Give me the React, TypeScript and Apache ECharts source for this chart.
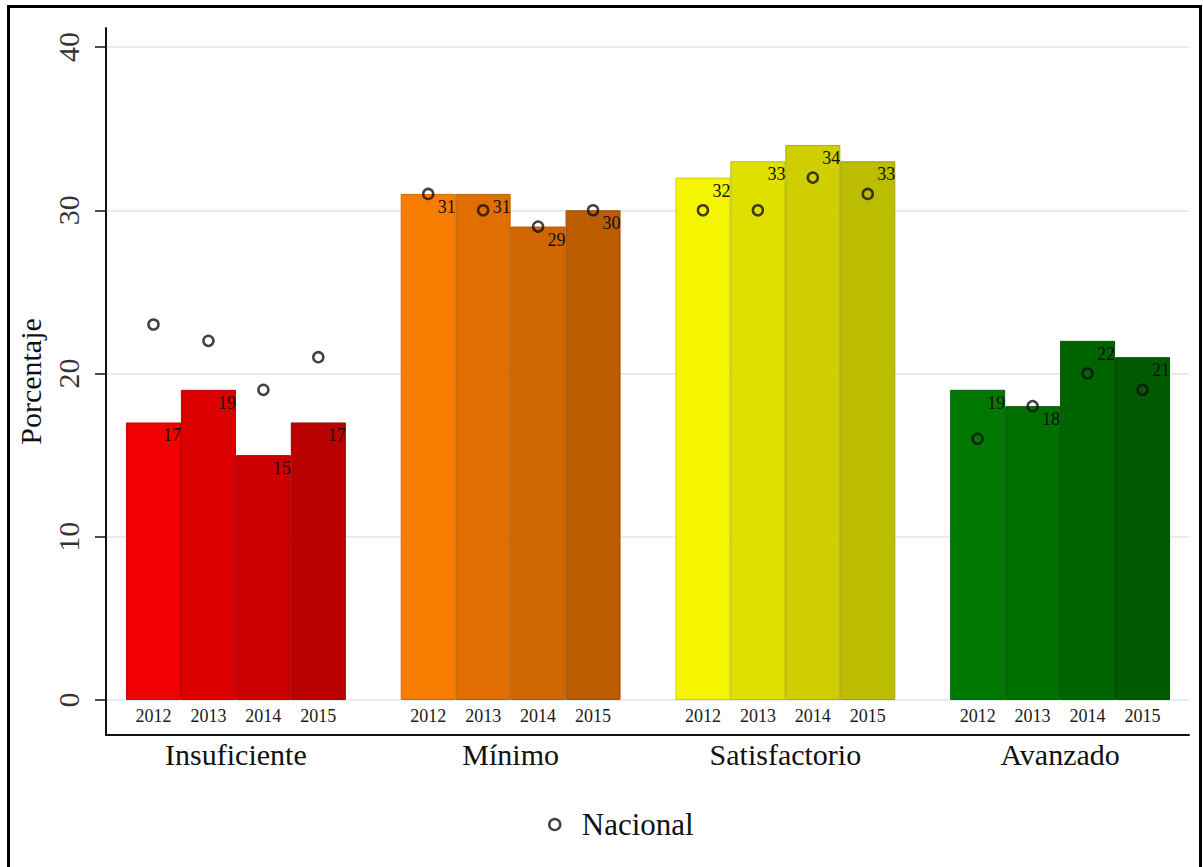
import React, { useEffect, useRef } from "react";
import * as echarts from "echarts";

const categories = ["Insuficiente", "Mínimo", "Satisfactorio", "Avanzado"];
const years = ["2012", "2013", "2014", "2015"];
const insuficiente = [17, 19, 15, 17];
const minimo = [31, 31, 29, 30];
const satisfactorio = [32, 33, 34, 33];
const avanzado = [19, 18, 22, 21];
const nacionalInsuficiente = [23, 22, 19, 21];
const nacionalMinimo = [31, 30, 29, 30];
const nacionalSatisfactorio = [30, 30, 32, 31];
const nacionalAvanzado = [16, 18, 20, 19];
const yTicks = [0, 10, 20, 30, 40];

const groupValues = [insuficiente, minimo, satisfactorio, avanzado];
const groupNacional = [nacionalInsuficiente, nacionalMinimo, nacionalSatisfactorio, nacionalAvanzado];
const groupColors = [
  ["#f00000", "#dc0000", "#cc0000", "#bb0000"],
  ["#f77c00", "#e06e00", "#d06600", "#bc5c00"],
  ["#f5f500", "#e0e000", "#d0cd00", "#bcbc00"],
  ["#007800", "#006e00", "#006400", "#005a00"],
];

const SERIF = "'Liberation Serif', 'Times New Roman', 'DejaVu Serif', serif";

function darken(hex: string, f: number) {
  const n = parseInt(hex.slice(1), 16);
  const r = Math.round(((n >> 16) & 255) * f);
  const g = Math.round(((n >> 8) & 255) * f);
  const b = Math.round((n & 255) * f);
  return `rgb(${r},${g},${b})`;
}

export default function App() {
  const ref = useRef<HTMLDivElement>(null);
  useEffect(() => {
    document.body.style.margin = "0";
    document.body.style.overflow = "hidden";
    if (!ref.current) return;
    const chart = echarts.init(ref.current, undefined, { renderer: "svg" });

    const slot = 5; // 4 bars + 1 gap per group
    const barData: any[] = [];
    const dotData: any[] = [];
    const yearPositions: number[] = [];
    const yearAt: Record<string, string> = {};
    const groupCenters: number[] = [];
    const groupAt: Record<string, string> = {};
    groupValues.forEach((vals, g) => {
      vals.forEach((v, i) => {
        const x = g * slot + i;
        const c = groupColors[g][i];
        barData.push({
          value: [x, v],
          itemStyle: { color: c, borderColor: darken(c, 0.85) },
        });
        dotData.push([x, groupNacional[g][i]]);
        yearPositions.push(x);
        yearAt[String(x)] = years[i];
      });
      const c = g * slot + 1.5;
      groupCenters.push(c);
      groupAt[String(c)] = categories[g];
    });

    const xMin = -0.864;
    const xMax = 18.846;

    chart.setOption({
      animation: false,
      backgroundColor: "transparent",
      grid: { left: 106, right: 14, top: 28, bottom: 132, containLabel: false },
      xAxis: [
        {
          type: "value",
          min: xMin,
          max: xMax,
          position: "bottom",
          offset: -35,
          axisLine: { show: false, onZero: false },
          axisTick: { show: false },
          splitLine: { show: false },
          axisLabel: {
            customValues: yearPositions,
            formatter: (v: number) => yearAt[String(v)] ?? "",
            fontFamily: SERIF,
            fontSize: 18,
            color: "#1a1a1a",
            margin: 7,
          },
        },
        {
          type: "value",
          min: xMin,
          max: xMax,
          position: "bottom",
          axisLine: { show: true, onZero: false, lineStyle: { color: "#111", width: 2 } },
          axisTick: { show: false },
          splitLine: { show: false },
          axisLabel: {
            customValues: groupCenters,
            formatter: (v: number) => groupAt[String(v)] ?? "",
            fontFamily: SERIF,
            fontSize: 30,
            color: "#111",
            margin: 4,
          },
        },
      ],
      yAxis: {
        type: "value",
        min: -2.144,
        max: 41.164,
        name: "Porcentaje",
        nameLocation: "middle",
        nameGap: 54,
        nameTextStyle: { fontFamily: SERIF, fontSize: 30, color: "#111" },
        axisLine: { show: true, onZero: false, lineStyle: { color: "#111", width: 2 } },
        axisTick: { show: true, length: 11, customValues: yTicks, lineStyle: { color: "#111", width: 1.5 } },
        splitLine: { show: false },
        axisLabel: {
          customValues: yTicks,
          rotate: 90,
          fontFamily: SERIF,
          fontSize: 30,
          color: "#333",
          margin: 23,
        },
      },
      legend: {
        left: 543,
        top: 804,
        itemWidth: 44,
        itemHeight: 11,
        data: [{ name: "Nacional", icon: "circle" }],
        itemStyle: { color: "rgba(0,0,0,0)", borderColor: "#111", borderWidth: 2.5 },
        textStyle: { fontFamily: SERIF, fontSize: 31, color: "#111" },
        selectedMode: false,
      },
      series: [
        {
          name: "grid",
          type: "line",
          data: [],
          z: 0,
          silent: true,
          markLine: {
            z: 0,
            silent: true,
            symbol: "none",
            label: { show: false },
            lineStyle: { color: "#e4eeee", width: 2, type: "solid" },
            data: yTicks.map((t) => ({ yAxis: t })),
          },
        },
        {
          name: "Porcentaje",
          type: "bar",
          xAxisIndex: 0,
          data: barData,
          barWidth: 55,
          z: 3,
          itemStyle: { borderWidth: 1 },
          label: {
            show: true,
            position: ["100%", 4],
            align: "right",
            verticalAlign: "top",
            fontFamily: SERIF,
            fontSize: 18,
            color: "#111",
            formatter: (p: any) => String(p.value[1]),
          },
        },
        {
          name: "Nacional",
          type: "scatter",
          xAxisIndex: 0,
          data: dotData,
          symbol: "circle",
          symbolSize: 10,
          z: 5,
          itemStyle: { color: "rgba(0,0,0,0)", borderColor: "#111", borderWidth: 2.5 },
        },
      ],
    });
    return () => chart.dispose();
  }, []);

  return (
    <div style={{ position: "fixed", left: 0, top: 0, width: 1203, height: 867, overflow: "hidden", background: "#fff" }}>
      <div
        style={{
          position: "absolute",
          left: 7,
          top: 5,
          width: 1195,
          height: 900,
          border: "3px solid #000",
          boxSizing: "border-box",
        }}
      />
      <div ref={ref} style={{ position: "absolute", left: 0, top: 0, width: 1203, height: 867 }} />
    </div>
  );
}
